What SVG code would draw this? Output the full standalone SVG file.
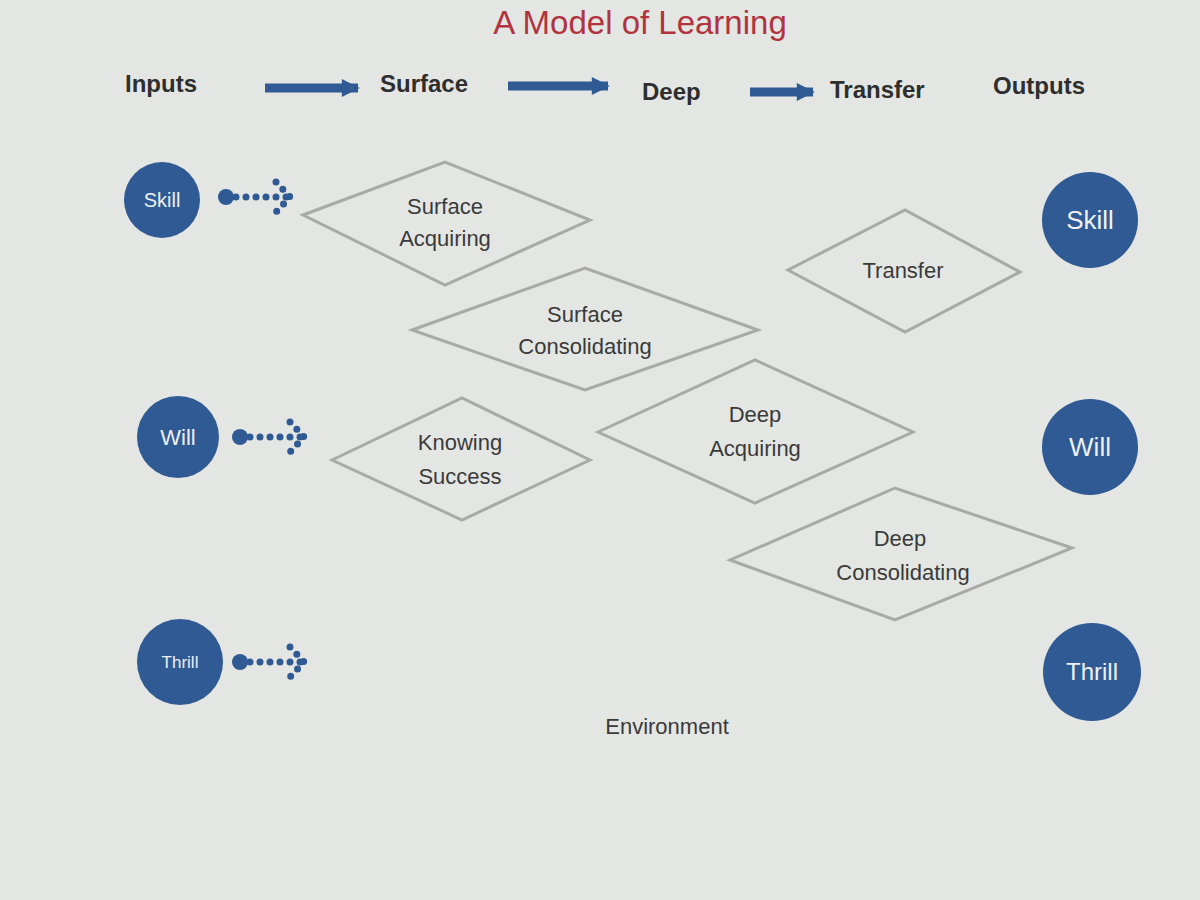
<svg xmlns="http://www.w3.org/2000/svg" width="1200" height="900" viewBox="0 0 1200 900">
<defs>
<style>
.bg{fill:#e4e6e3}
.dia{fill:none;stroke:#a9aaa8;stroke-width:3}
.dt{font-family:"Liberation Sans",Arial,sans-serif;font-size:22px;fill:#3a3a3a;text-anchor:middle}
.hd{font-family:"Liberation Sans",Arial,sans-serif;font-size:24px;font-weight:bold;fill:#2e2e2e}
.cir{fill:#2f5a93}
.ct{font-family:"Liberation Sans",Arial,sans-serif;fill:#eef0f4;text-anchor:middle}
.dot{stroke:#2f5a93;stroke-width:7;stroke-linecap:round;stroke-dasharray:0 10;fill:none}
</style>
<marker id="ah" viewBox="0 0 10 10" refX="9" refY="5" markerWidth="2.2" markerHeight="2" orient="auto"><path d="M0,0L10,5L0,10z" fill="#2f5a93"/></marker>
</defs>
<rect class="bg" width="1200" height="900"/>
<text x="640" y="34" font-family="Liberation Sans,Arial,sans-serif" font-size="33" fill="#b23340" text-anchor="middle">A Model of Learning</text>
<g id="header">
<text class="hd" x="125" y="92">Inputs</text>
<text class="hd" x="380" y="92">Surface</text>
<text class="hd" x="642" y="100">Deep</text>
<text class="hd" x="830" y="98">Transfer</text>
<text class="hd" x="993" y="94">Outputs</text>
</g>
<g id="connectors" stroke="#2f5a93" stroke-width="9" fill="none">
<line x1="265" y1="88" x2="358" y2="88" marker-end="url(#ah)"/>
<line x1="508" y1="86" x2="608" y2="86" marker-end="url(#ah)"/>
<line x1="750" y1="92" x2="813" y2="92" marker-end="url(#ah)"/>
<g stroke-width="0">
<circle cx="226" cy="197" r="8" fill="#2f5a93"/>
<circle cx="240" cy="437" r="8" fill="#2f5a93"/>
<circle cx="240" cy="662" r="8" fill="#2f5a93"/>
</g>
<path class="dot" d="M236,197H290M276,182L290,197L276,212"/>
<path class="dot" d="M250,437H304M290,422L304,437L290,452"/>
<path class="dot" d="M250,662H304M290,647L304,662L290,677"/>
</g>
<g id="in-skill"><circle class="cir" cx="162" cy="200" r="38"/><text class="ct" x="162" y="207" font-size="20">Skill</text></g>
<g id="in-will"><circle class="cir" cx="178" cy="437" r="41"/><text class="ct" x="178" y="445" font-size="22">Will</text></g>
<g id="in-thrill"><circle class="cir" cx="180" cy="662" r="43"/><text class="ct" x="180" y="668" font-size="17">Thrill</text></g>
<g id="out-skill"><circle class="cir" cx="1090" cy="220" r="48"/><text class="ct" x="1090" y="229" font-size="26">Skill</text></g>
<g id="out-will"><circle class="cir" cx="1090" cy="447" r="48"/><text class="ct" x="1090" y="456" font-size="26">Will</text></g>
<g id="out-thrill"><circle class="cir" cx="1092" cy="672" r="49"/><text class="ct" x="1092" y="680" font-size="24">Thrill</text></g>
<g id="surface-acquiring"><polygon class="dia" points="303,215 445,162 590,220 445,285"/><text class="dt" x="445" y="214">Surface</text><text class="dt" x="445" y="246">Acquiring</text></g>
<g id="surface-consolidating"><polygon class="dia" points="412,330 585,268 758,330 585,390"/><text class="dt" x="585" y="322">Surface</text><text class="dt" x="585" y="354">Consolidating</text></g>
<g id="transfer"><polygon class="dia" points="788,270 905,210 1020,272 905,332"/><text class="dt" x="903" y="278">Transfer</text></g>
<g id="deep-acquiring"><polygon class="dia" points="598,432 755,360 913,432 755,503"/><text class="dt" x="755" y="422">Deep</text><text class="dt" x="755" y="456">Acquiring</text></g>
<g id="knowing-success"><polygon class="dia" points="332,460 462,398 590,460 462,520"/><text class="dt" x="460" y="450">Knowing</text><text class="dt" x="460" y="484">Success</text></g>
<g id="deep-consolidating"><polygon class="dia" points="730,560 895,488 1072,548 895,620"/><text class="dt" x="900" y="546">Deep</text><text class="dt" x="903" y="580">Consolidating</text></g>
<text class="dt" x="667" y="734">Environment</text>
</svg>
